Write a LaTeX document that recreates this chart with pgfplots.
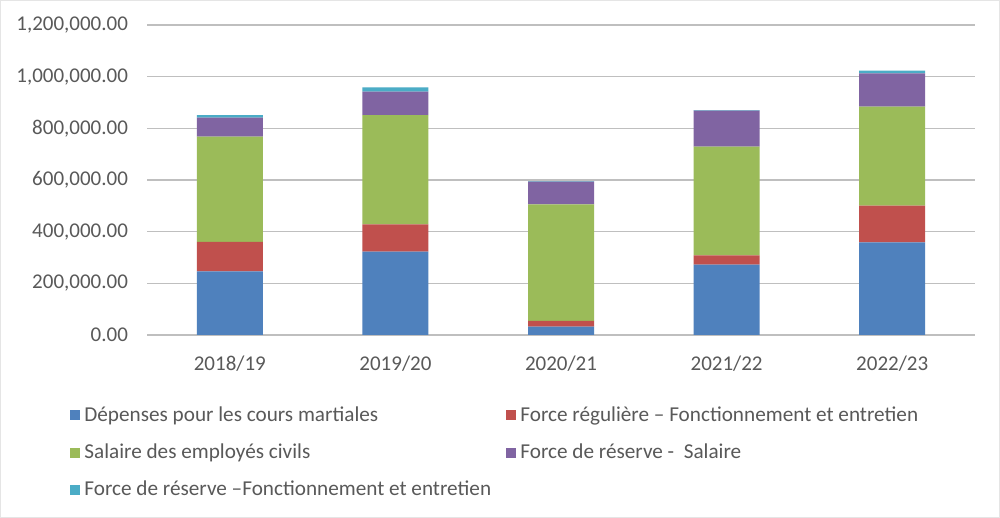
\documentclass[border=0pt]{standalone}
\usepackage{pgfplots}
\pgfplotsset{compat=1.18}
\usepackage{fontspec}
\setmainfont{Carlito}
\definecolor{cblue}{RGB}{79,129,189}
\definecolor{cred}{RGB}{192,80,77}
\definecolor{cgreen}{RGB}{155,187,89}
\definecolor{cpurple}{RGB}{128,100,162}
\definecolor{ccyan}{RGB}{75,172,198}
\definecolor{txt}{RGB}{89,89,89}
\definecolor{grid}{RGB}{217,217,217}
\begin{document}
\begin{tikzpicture}[x=1pt,y=1pt]
\fill[white] (0,0) rectangle (500,259);
\draw[black!10,line width=0.5pt] (0.25,0.25) rectangle (499.75,258.75);
\begin{axis}[
  at={(73.5pt,91.5pt)}, anchor=south west,
  scale only axis, width=414pt, height=155pt,
  ybar stacked, bar width=33pt,
  xmin=-0.5, xmax=4.5, ymin=0, ymax=1200000,
  xtick={0,1,2,3,4},
  xticklabels={2018/19,2019/20,2020/21,2021/22,2022/23},
  ytick={0,200000,400000,600000,800000,1000000,1200000},
  scaled y ticks=false,
  yticklabel style={/pgf/number format/.cd, fixed, fixed zerofill, precision=2, 1000 sep={,}, assume math mode=true},
  xmajorgrids=false, ymajorgrids, grid style={grid, line width=0.75pt},
  axis line style={draw=none},
  xtick style={draw=none}, ytick style={draw=none},
  major tick length=0pt,
  tick label style={font=\fontsize{10.5}{12}\selectfont, text=txt},
  yticklabel shift=6pt,
  xticklabel shift=7pt,
  legend style={draw=none, at={(-41.5pt,-31.5pt)}, anchor=north west,
    font=\fontsize{10.6}{12}\selectfont, text=txt, row sep=5.8pt,
    /tikz/every even column/.append style={column sep=0pt}},
  legend columns=2,
  legend cell align=left,
  legend image code/.code={\fill[#1,draw=none] (-4pt,-2.5pt) rectangle (1pt,2.5pt);},
  every axis plot/.append style={draw=none},
]
\addplot[fill=cblue] coordinates {(0,246600) (1,322600) (2,32100) (3,272200) (4,358700)};
\addplot[fill=cred] coordinates {(0,113400) (1,105800) (2,22100) (3,36200) (4,141900)};
\addplot[fill=cgreen] coordinates {(0,407600) (1,423200) (2,451600) (3,420600) (4,383200)};
\addplot[fill=cpurple] coordinates {(0,73600) (1,90300) (2,87700) (3,139300) (4,129100)};
\addplot[fill=ccyan] coordinates {(0,10400) (1,16800) (2,2000) (3,2500) (4,10300)};
\addlegendentry{\makebox[209pt][l]{Dépenses pour les cours martiales}}
\addlegendentry{Force régulière – Fonctionnement et entretien}
\addlegendentry{\makebox[209pt][l]{Salaire des employés civils}}
\addlegendentry{Force de réserve -\ \ Salaire}
\addlegendentry{\makebox[209pt][l]{Force de réserve –Fonctionnement et entretien}}
\end{axis}
\end{tikzpicture}
\end{document}
